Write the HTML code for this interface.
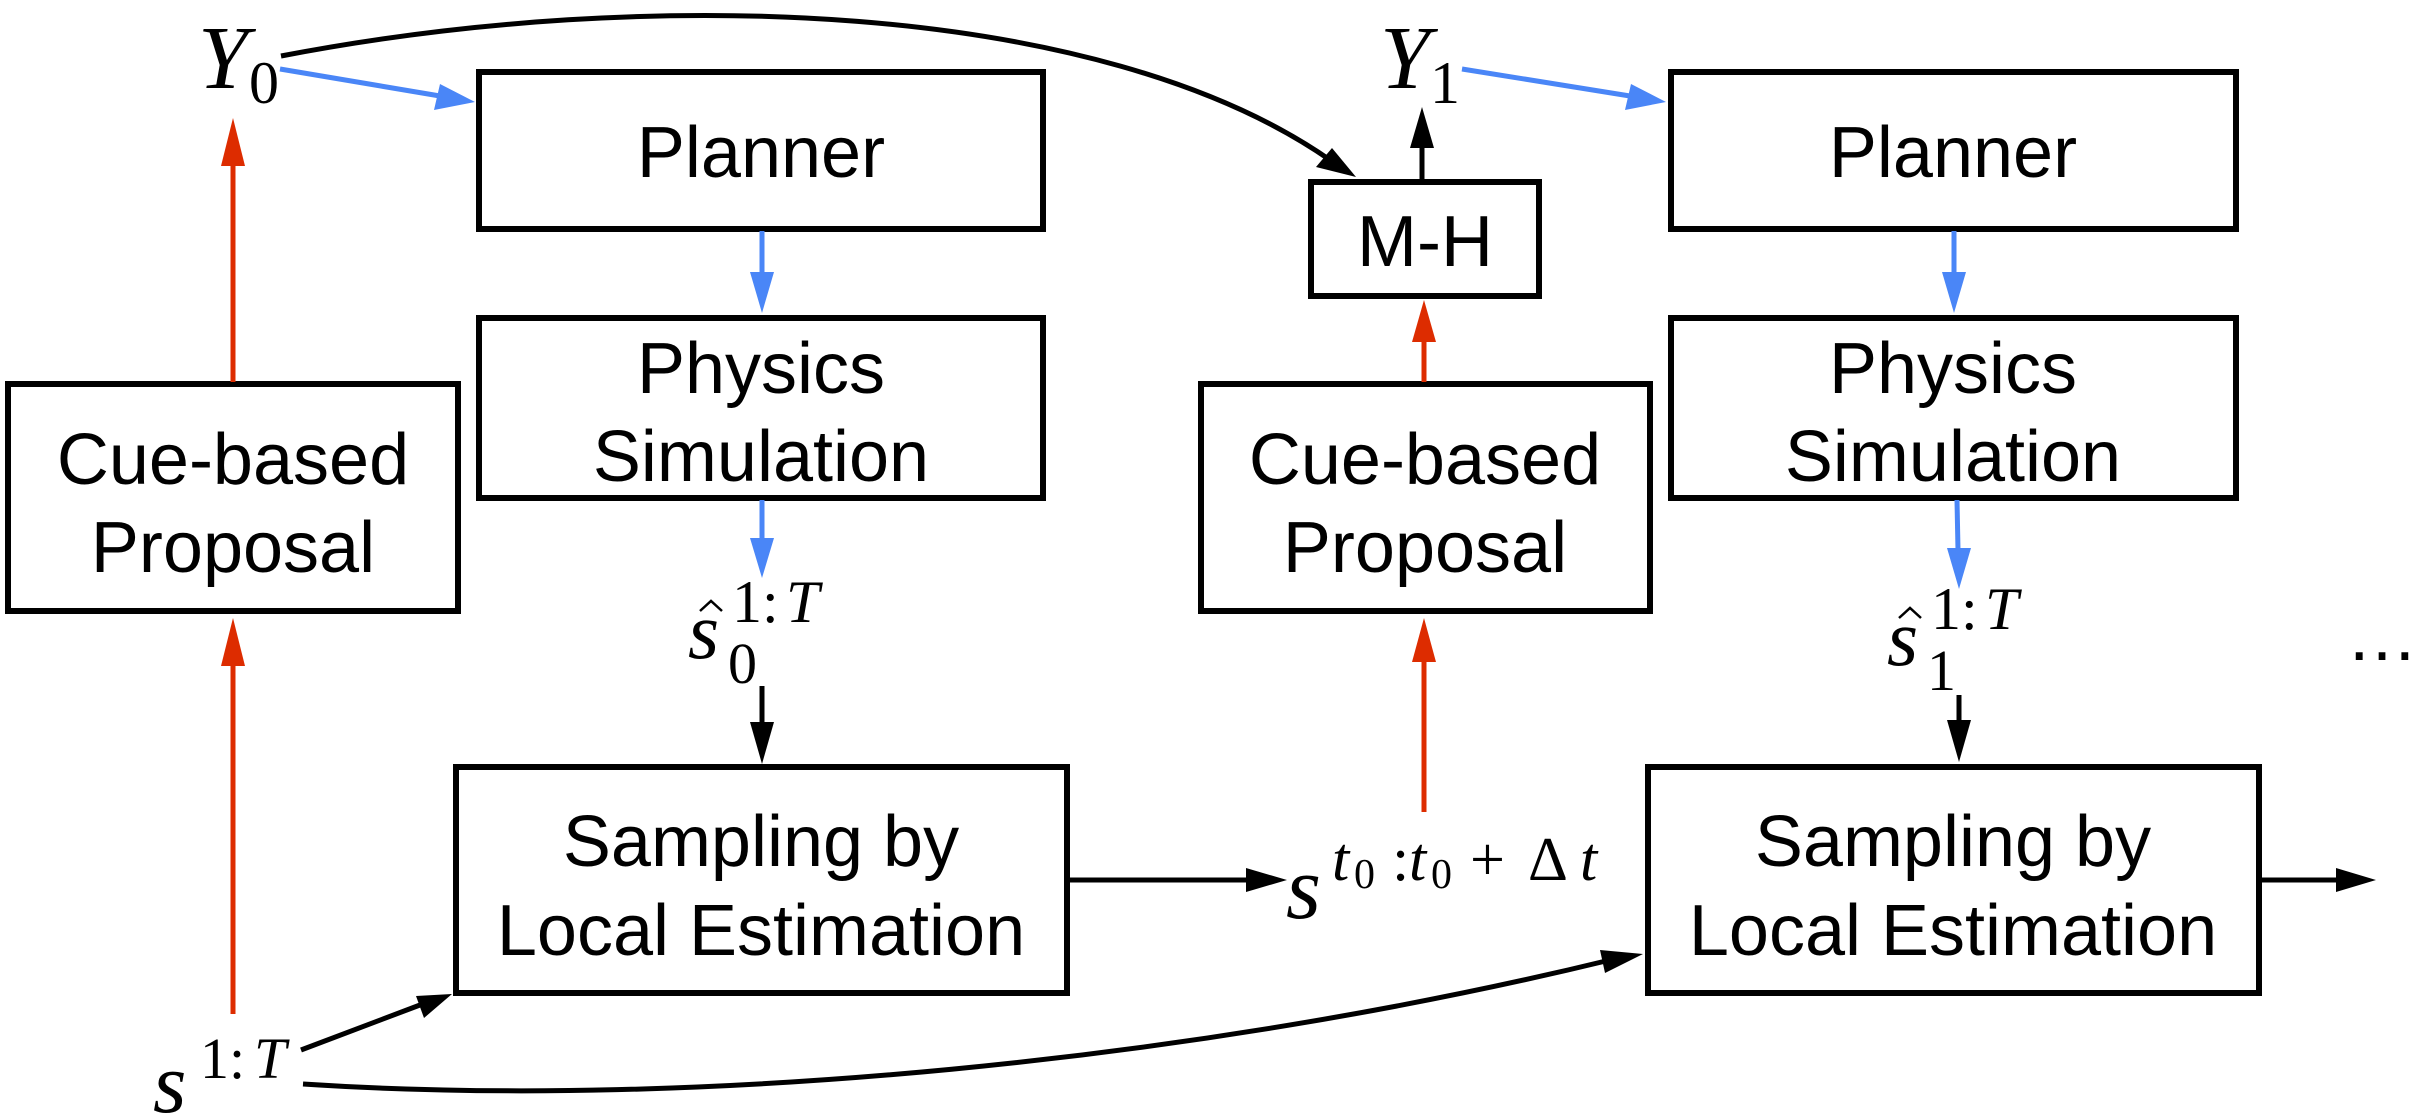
<!DOCTYPE html>
<html><head><meta charset="utf-8"><style>
html,body{margin:0;padding:0;background:#fff;width:2432px;height:1120px;overflow:hidden}
svg{display:block}
.b{fill:none;stroke:#000;stroke-width:6}
.t{font-family:"Liberation Sans",sans-serif;font-size:72px;text-anchor:middle;fill:#000}
.m{font-family:"Liberation Serif",serif;font-style:italic;fill:#000}
.r{font-family:"Liberation Serif",serif;fill:#000}
</style></head><body>
<svg width="2432" height="1120" viewBox="0 0 2432 1120" xmlns="http://www.w3.org/2000/svg">
<g>
<rect class="b" x="479" y="72" width="564" height="157"/>
<rect class="b" x="479" y="318" width="564" height="180"/>
<rect class="b" x="8" y="384" width="450" height="227"/>
<rect class="b" x="456" y="767" width="611" height="226"/>
<rect class="b" x="1311" y="182" width="228" height="114"/>
<rect class="b" x="1201" y="384" width="449" height="227"/>
<rect class="b" x="1671" y="72" width="565" height="157"/>
<rect class="b" x="1671" y="318" width="565" height="180"/>
<rect class="b" x="1648" y="767" width="611" height="226"/>

<text class="t" x="761" y="177">Planner</text>
<text class="t" x="761" y="393">Physics</text>
<text class="t" x="761" y="481">Simulation</text>
<text class="t" x="233" y="484">Cue-based</text>
<text class="t" x="233" y="572">Proposal</text>
<text class="t" x="761" y="866">Sampling by</text>
<text class="t" x="761" y="955">Local Estimation</text>
<text class="t" x="1425" y="266">M-H</text>
<text class="t" x="1425" y="484">Cue-based</text>
<text class="t" x="1425" y="572">Proposal</text>
<text class="t" x="1953" y="177">Planner</text>
<text class="t" x="1953" y="393">Physics</text>
<text class="t" x="1953" y="481">Simulation</text>
<text class="t" x="1953" y="866">Sampling by</text>
<text class="t" x="1953" y="955">Local Estimation</text>

<text class="m" x="198" y="88" font-size="90">Y</text><text class="r" x="249" y="103" font-size="60">0</text>
<text class="m" x="1380" y="88" font-size="90">Y</text><text class="r" x="1430" y="103" font-size="60">1</text>

<text class="m" x="153" y="1112" font-size="86">s</text>
<text class="r" x="200" y="1078" font-size="58">1:</text><text class="m" x="254" y="1078" font-size="58">T</text>

<text class="m" x="688" y="658" font-size="80">s</text>
<path d="M700,611 L711,601 L722,611" fill="none" stroke="#000" stroke-width="2.5"/>
<text class="r" x="732" y="622" font-size="60">1:</text><text class="m" x="786" y="622" font-size="60">T</text>
<text class="r" x="728" y="683" font-size="58">0</text>

<text class="m" x="1887" y="665" font-size="80">s</text>
<path d="M1899,618 L1910,608 L1921,618" fill="none" stroke="#000" stroke-width="2.5"/>
<text class="r" x="1931" y="629" font-size="60">1:</text><text class="m" x="1985" y="629" font-size="60">T</text>
<text class="r" x="1927" y="690" font-size="58">1</text>

<text class="m" x="1286" y="918" font-size="90">s</text>
<text class="m" x="1332" y="880" font-size="62">t</text>
<text class="r" x="1354" y="888" font-size="42">0</text>
<text class="r" x="1392" y="880" font-size="62">:</text>
<text class="m" x="1409" y="880" font-size="62">t</text>
<text class="r" x="1431" y="888" font-size="42">0</text>
<text class="r" x="1470" y="880" font-size="62">+</text>
<text class="r" x="1528" y="880" font-size="62">Δ</text>
<text class="m" x="1580" y="880" font-size="62">t</text>
<text class="t" x="2382" y="660" font-size="60">…</text>

<g stroke="#dd2c00" stroke-width="5" fill="#dd2c00">
<line x1="233" y1="382" x2="233" y2="165"/><path d="M233,118 L221,166 L245,166 z" stroke="none"/>
<line x1="233" y1="1014" x2="233" y2="665"/><path d="M233,618 L221,666 L245,666 z" stroke="none"/>
<line x1="1424" y1="382" x2="1424" y2="340"/><path d="M1424,300 L1412,342 L1436,342 z" stroke="none"/>
<line x1="1424" y1="812" x2="1424" y2="660"/><path d="M1424,618 L1412,662 L1436,662 z" stroke="none"/>
</g>
<g stroke="#4a86f7" stroke-width="5" fill="#4a86f7">
<line x1="280" y1="69" x2="440" y2="96"/><path d="M475,102 L434,110 L440,84 z" stroke="none"/>
<line x1="1462" y1="69" x2="1630" y2="96"/><path d="M1666,102 L1625,110 L1631,84 z" stroke="none"/>
<line x1="762" y1="231" x2="762" y2="275"/><path d="M762,313 L750,272 L774,272 z" stroke="none"/>
<line x1="762" y1="500" x2="762" y2="540"/><path d="M762,578 L750,538 L774,538 z" stroke="none"/>
<line x1="1954" y1="231" x2="1954" y2="275"/><path d="M1954,313 L1942,272 L1966,272 z" stroke="none"/>
<line x1="1957" y1="500" x2="1958" y2="550"/><path d="M1959,589 L1947,548 L1971,548 z" stroke="none"/>
</g>
<g stroke="#000" stroke-width="5" fill="#000">
<line x1="762" y1="686" x2="762" y2="722"/><path d="M762,764 L750,722 L774,722 z" stroke="none"/>
<line x1="1959" y1="695" x2="1959" y2="722"/><path d="M1959,762 L1947,720 L1971,720 z" stroke="none"/>
<line x1="1422" y1="180" x2="1422" y2="145"/><path d="M1422,107 L1410,148 L1434,148 z" stroke="none"/>
<line x1="1069" y1="880" x2="1250" y2="880"/><path d="M1287,880 L1246,868 L1246,892 z" stroke="none"/>
<line x1="2261" y1="880" x2="2340" y2="880"/><path d="M2376,880 L2336,868 L2336,892 z" stroke="none"/>
<line x1="301" y1="1050" x2="420" y2="1005"/><path d="M452,994 L424,1018 L416,996 z" stroke="none"/>
<path d="M303,1084 C700,1110 1200,1060 1610,960" fill="none"/><path d="M1643,954 L1605,973 L1600,950 z" stroke="none"/>
<path d="M281,56 C650,-15 1100,0 1330,160" fill="none"/><path d="M1356,177 L1316,167 L1332,148 z" stroke="none"/>
</g>
</g>
</svg>
</body></html>
